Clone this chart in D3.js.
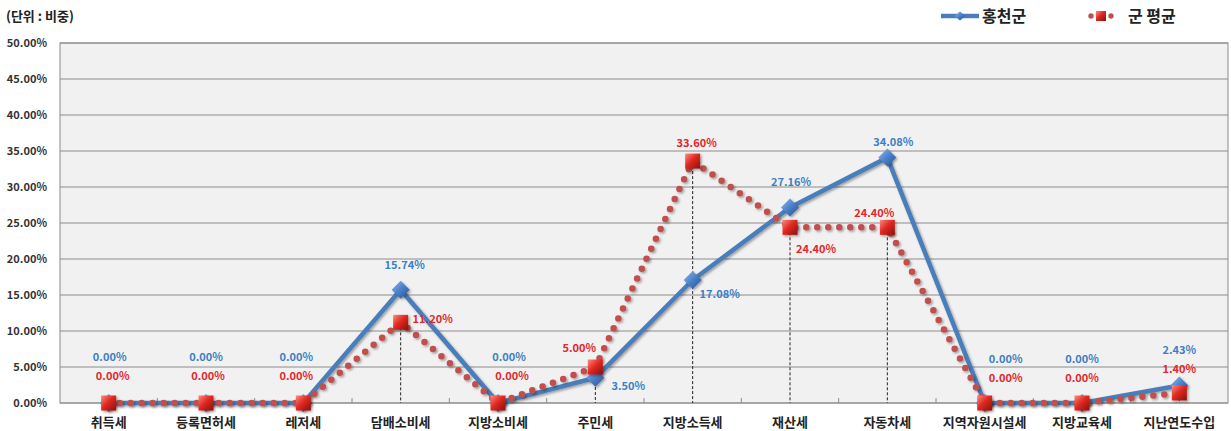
<!DOCTYPE html>
<html><head><meta charset="utf-8">
<script src="https://cdn.jsdelivr.net/npm/d3@7"></script>
<style>
body{margin:0;background:#fff;}
text{font-family:"Noto Sans CJK KR","Noto Sans",sans-serif;font-weight:bold;}
</style></head>
<body><svg id="c" width="1231" height="431"></svg>
<script>
const categories=["취득세","등록면허세","레저세","담배소비세","지방소비세","주민세","지방소득세","재산세","자동차세","지역자원시설세","지방교육세","지난연도수입"];
const hongcheon=[0,0,0,15.74,0,3.50,17.08,27.16,34.08,0,0,2.43];
const gunAvg=[0,0,0,11.20,0,5.00,33.60,24.40,24.40,0,0,1.40];
const yTicks=[0,5,10,15,20,25,30,35,40,45,50];
const seriesNames=["홍천군","군 평균"];
// label offsets from each point (layout config, not data)
const blueLabelOff=[[1,-42],[0,-42],[-7,-42],[4,-21],[11,-42],[33,12],[27,18],[1,-21],[6,-12],[21,-40],[0,-40],[0,-32]];
const redLabelOff=[[4,-23],[2,-23],[-7,-23],[32,1],[14,-23],[-16,-15],[4,-14],[26,26],[-13,-10],[21,-21],[0,-21],[0,-20]];

const svg=d3.select("#c");
const L=60,R=1228,T=43,B=403;
const x=d3.scaleBand().domain(categories).range([L,R]);
const y=d3.scaleLinear().domain([0,50]).range([B,T]);
const cx=d=>x(d)+x.bandwidth()/2;

const defs=svg.append("defs");
const gb=defs.append("linearGradient").attr("id","gb").attr("x1","0").attr("y1","0").attr("x2","1").attr("y2","1");
gb.append("stop").attr("offset","0").attr("stop-color","#8fb8ee");
gb.append("stop").attr("offset","0.5").attr("stop-color","#4a80c8");
gb.append("stop").attr("offset","1").attr("stop-color","#244f8e");
const gr=defs.append("linearGradient").attr("id","gr").attr("x1","0").attr("y1","0").attr("x2","1").attr("y2","1");
gr.append("stop").attr("offset","0").attr("stop-color","#ff8a80");
gr.append("stop").attr("offset","0.45").attr("stop-color","#e02a22");
gr.append("stop").attr("offset","1").attr("stop-color","#8e0f0c");
const sh=defs.append("filter").attr("id","sh").attr("x","-50%").attr("y","-50%").attr("width","200%").attr("height","200%");
sh.append("feDropShadow").attr("dx",1.5).attr("dy",1.5).attr("stdDeviation",1.2).attr("flood-color","#000").attr("flood-opacity",0.35);

// plot background
svg.append("rect").attr("x",L).attr("y",T).attr("width",R-L).attr("height",B-T).attr("fill","#f1f1f1").attr("stroke","#8a8a8a");

// gridlines
svg.append("g").selectAll("line").data(yTicks).join("line")
 .attr("x1",L).attr("x2",R).attr("y1",d=>y(d)).attr("y2",d=>y(d))
 .attr("stroke","#8c8c8c").attr("stroke-width",1);

// y labels
svg.append("g").selectAll("text").data(yTicks).join("text")
 .attr("x",47).attr("y",d=>y(d)+4).attr("text-anchor","end")
 .attr("font-size",11).attr("fill","#333").text(d=>d.toFixed(2)+"%");

// x ticks inside at band boundaries
svg.append("g").selectAll("line").data(categories.slice(1)).join("line")
 .attr("x1",d=>x(d)).attr("x2",d=>x(d)).attr("y1",B).attr("y2",B-5)
 .attr("stroke","#8c8c8c");

// x labels
svg.append("g").selectAll("text").data(categories).join("text")
 .attr("x",d=>cx(d)).attr("y",427).attr("text-anchor","middle")
 .attr("font-size",13).attr("fill","#222").text(d=>d);

// title
svg.append("text").attr("x",6).attr("y",21).attr("font-size",13).attr("fill","#222").text("(단위 : 비중)");

// drop lines for red series
svg.append("g").selectAll("line").data(categories.filter((c,i)=>gunAvg[i]>0)).join("line")
 .attr("x1",d=>cx(d)).attr("x2",d=>cx(d))
 .attr("y1",d=>y(gunAvg[categories.indexOf(d)])).attr("y2",B)
 .attr("stroke","#222").attr("stroke-width",1).attr("stroke-dasharray","3,2");

const line=d3.line().x((d,i)=>cx(categories[i])).y(d=>y(d));

// blue line
svg.append("path").datum(hongcheon).attr("d",line).attr("fill","none")
 .attr("stroke","#4a7ebb").attr("stroke-width",4.5).attr("stroke-linejoin","round").attr("filter","url(#sh)");
// blue markers
svg.append("g").selectAll("path").data(hongcheon).join("path")
 .attr("transform",(d,i)=>`translate(${cx(categories[i])},${y(d)})`)
 .attr("d","M0,-9L9,0L0,9L-9,0Z").attr("fill","url(#gb)").attr("filter","url(#sh)");

// red dotted line
svg.append("path").datum(gunAvg).attr("d",line).attr("fill","none")
 .attr("stroke","#c0504d").attr("stroke-width",6.5).attr("stroke-linecap","round")
 .attr("stroke-dasharray","0,11").attr("filter","url(#sh)");
// red markers
svg.append("g").selectAll("rect").data(gunAvg).join("rect")
 .attr("x",(d,i)=>cx(categories[i])-7.5).attr("y",d=>y(d)-7.5).attr("width",15).attr("height",15)
 .attr("fill","url(#gr)").attr("filter","url(#sh)");

svg.append("g").selectAll("text").data(hongcheon).join("text")
 .attr("x",(d,i)=>cx(categories[i])+blueLabelOff[i][0]).attr("y",(d,i)=>y(d)+blueLabelOff[i][1])
 .attr("text-anchor","middle")
 .attr("font-size",11).attr("fill","#3c7fc4").text(d=>d.toFixed(2)+"%");
svg.append("g").selectAll("text").data(gunAvg).join("text")
 .attr("x",(d,i)=>cx(categories[i])+redLabelOff[i][0]).attr("y",(d,i)=>y(d)+redLabelOff[i][1])
 .attr("text-anchor","middle")
 .attr("font-size",11).attr("fill","#e3262b").text(d=>d.toFixed(2)+"%");

// legend
const lg=svg.append("g");
lg.append("line").attr("x1",941).attr("x2",979).attr("y1",16).attr("y2",16).attr("stroke","#4a7ebb").attr("stroke-width",4.5);
lg.append("path").attr("transform","translate(960,16)").attr("d","M0,-4.5L5.5,0L0,4.5L-5.5,0Z").attr("fill","url(#gb)");
lg.append("text").attr("x",982).attr("y",22).attr("font-size",16).attr("fill","#222").text(seriesNames[0]);
lg.append("circle").attr("cx",1091).attr("cy",16).attr("r",2.7).attr("fill","#c0504d");
lg.append("circle").attr("cx",1111).attr("cy",16).attr("r",2.7).attr("fill","#c0504d");
lg.append("rect").attr("x",1096).attr("y",11).attr("width",10).attr("height",10).attr("fill","url(#gr)");
lg.append("text").attr("x",1128).attr("y",22).attr("font-size",16).attr("fill","#222").text(seriesNames[1]);
</script></body></html>
